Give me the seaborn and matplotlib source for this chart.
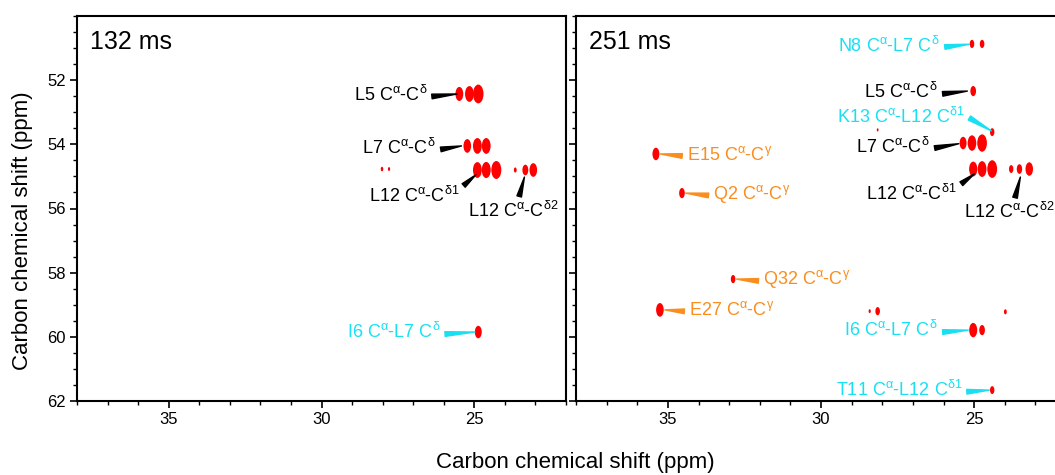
import numpy as np
import pandas as pd
import matplotlib
matplotlib.use("Agg")
import matplotlib.pyplot as plt
import seaborn as sns
from matplotlib.path import Path
from matplotlib.transforms import Affine2D
from matplotlib.ticker import MultipleLocator

# --- peak lists (ppm, relative intensity) ---
left_x = [25.49, 25.16, 24.87, 25.23, 24.90, 24.61, 24.90, 24.61, 24.28,
          23.66, 23.33, 23.07, 28.02, 27.79, 24.87]
left_y = [52.43, 52.43, 52.43, 54.05, 54.05, 54.05, 54.80, 54.80, 54.80,
          54.80, 54.80, 54.80, 54.77, 54.77, 59.85]
left_int = [0.38, 0.48, 0.68, 0.36, 0.48, 0.48, 0.48, 0.50, 0.62,
            0.05, 0.22, 0.36, 0.04, 0.03, 0.30]

right_x = [25.07, 24.74, 25.03, 24.41, 28.15, 25.36, 25.07, 24.74,
           25.03, 24.74, 24.41, 23.79, 23.52, 23.20, 35.39, 34.54,
           32.87, 35.26, 28.41, 28.15, 23.98, 25.03, 24.74, 24.41]
right_y = [50.87, 50.87, 52.34, 53.62, 53.55, 53.96, 53.96, 53.96,
           54.77, 54.77, 54.77, 54.77, 54.77, 54.77, 54.30, 55.52,
           58.20, 59.16, 59.20, 59.20, 59.22, 59.79, 59.79, 61.66]
right_int = [0.13, 0.13, 0.20, 0.12, 0.02, 0.30, 0.46, 0.58,
             0.42, 0.48, 0.60, 0.12, 0.18, 0.35, 0.30, 0.20,
             0.13, 0.36, 0.03, 0.13, 0.05, 0.40, 0.20, 0.12]

titles = ["132 ms", "251 ms"]
x_ticks = [35, 30, 25]
y_ticks = [52, 54, 56, 58, 60, 62]

RED = "#FF0000"
CYAN = "#18E0F2"
ORANGE = "#F98E1E"
BLACK = "#000000"

A = r"C$^{\alpha}$"
D = r"C$^{\delta}$"
D1 = r"C$^{\delta 1}$"
D2 = r"C$^{\delta 2}$"
G = r"C$^{\gamma}$"

# (text, peak xy, text xy, colour, ha, relpos)
left_labels = [
    (f"L5 {A}-{D}", (25.56, 52.43), (26.54, 52.46), BLACK, "right", (1, 0.4)),
    (f"L7 {A}-{D}", (25.42, 54.05), (26.25, 54.12), BLACK, "right", (1, 0.4)),
    (f"L12 {A}-{D1}", (24.95, 54.95), (25.49, 55.62), BLACK, "right", (1, 0.85)),
    (f"L12 {A}-{D2}", (23.36, 55.02), (23.72, 56.08), BLACK, "center", (0.55, 1)),
    (f"I6 {A}-L7 {D}", (24.98, 59.85), (26.11, 59.86), CYAN, "right", (1, 0.4)),
]
right_labels = [
    (f"N8 {A}-L7 {D}", (25.16, 50.88), (26.11, 50.92), CYAN, "right", (1, 0.4)),
    (f"L5 {A}-{D}", (25.22, 52.34), (26.18, 52.38), BLACK, "right", (1, 0.4)),
    (f"K13 {A}-L12 {D1}", (24.44, 53.58), (25.30, 53.16), CYAN, "right", (1, 0.6)),
    (f"L7 {A}-{D}", (25.50, 53.98), (26.44, 54.08), BLACK, "right", (1, 0.4)),
    (f"L12 {A}-{D1}", (24.99, 54.92), (25.56, 55.55), BLACK, "right", (1, 0.85)),
    (f"L12 {A}-{D2}", (23.49, 55.02), (23.85, 56.12), BLACK, "center", (0.55, 1)),
    (f"E15 {A}-{G}", (35.25, 54.30), (34.38, 54.32), ORANGE, "left", (0, 0.4)),
    (f"Q2 {A}-{G}", (34.42, 55.52), (33.52, 55.54), ORANGE, "left", (0, 0.4)),
    (f"Q32 {A}-{G}", (32.76, 58.20), (31.89, 58.20), ORANGE, "left", (0, 0.4)),
    (f"E27 {A}-{G}", (35.10, 59.16), (34.31, 59.16), ORANGE, "left", (0, 0.4)),
    (f"I6 {A}-L7 {D}", (25.19, 59.79), (26.18, 59.80), CYAN, "right", (1, 0.4)),
    (f"T11 {A}-L12 {D1}", (24.50, 61.66), (25.39, 61.66), CYAN, "right", (1, 0.4)),
]

sns.set_style("ticks")
plt.rcParams["font.family"] = ["Liberation Sans", "DejaVu Sans"]
plt.rcParams["mathtext.fontset"] = "custom"
plt.rcParams["mathtext.rm"] = "Liberation Sans"
plt.rcParams["mathtext.it"] = "Liberation Sans"
plt.rcParams["mathtext.bf"] = "Liberation Sans:bold"
for key in ["text.color", "axes.labelcolor", "xtick.color", "ytick.color",
            "axes.edgecolor"]:
    plt.rcParams[key] = "black"

# vertically stretched ellipse to mimic the contour blobs
peak_marker = Path.unit_circle().transformed(Affine2D().scale(1, 1.8))

fig = plt.figure(figsize=(10.55, 4.75), dpi=100)
ax1 = fig.add_axes([77 / 1055, 74 / 475, 489 / 1055, 385 / 475])
ax2 = fig.add_axes([576 / 1055, 74 / 475, 490 / 1055, 385 / 475])

panels = [
    (ax1, left_x, left_y, left_int, left_labels),
    (ax2, right_x, right_y, right_int, right_labels),
]

for i, (ax, xs, ys, ints, labels) in enumerate(panels):
    df = pd.DataFrame({"x": xs, "y": ys, "intensity": ints})
    sns.scatterplot(data=df, x="x", y="y", size="intensity", sizes=(0, 270),
                    size_norm=(0, 1), marker=peak_marker, color=RED,
                    linewidth=0, legend=False, ax=ax)

    for text, xy, xytext, col, ha, relpos in labels:
        ax.annotate(text, xy=xy, xytext=xytext, color=col, fontsize=13,
                    ha=ha, va="center",
                    arrowprops=dict(arrowstyle="wedge,tail_width=0.26",
                                    color=col, relpos=relpos,
                                    shrinkA=1, shrinkB=0))

    ax.set_xlim(38, 22)
    ax.set_ylim(62, 50)
    ax.set_xticks(x_ticks)
    ax.set_yticks(y_ticks)
    ax.xaxis.set_minor_locator(MultipleLocator(1))
    ax.yaxis.set_minor_locator(MultipleLocator(0.5))
    ax.tick_params(which="major", direction="out", length=5, width=1.2,
                   labelsize=12, pad=3)
    ax.tick_params(which="minor", direction="out", length=3, width=1.0)
    ax.set_xlabel("")
    ax.set_ylabel("")
    for sp in ax.spines.values():
        sp.set_visible(True)
        sp.set_linewidth(1.5)
    ax.text(0.027, 0.932, titles[i], transform=ax.transAxes, fontsize=18,
            ha="left", va="center")

ax2.tick_params(labelleft=False)

fig.text(0.545, 0.027, "Carbon chemical shift (ppm)", fontsize=16,
         ha="center", va="center")
fig.text(0.021, 0.514, "Carbon chemical shift (ppm)", fontsize=16,
         ha="center", va="center", rotation=90)

fig.savefig("out.png", dpi=100)
plt.close(fig)
